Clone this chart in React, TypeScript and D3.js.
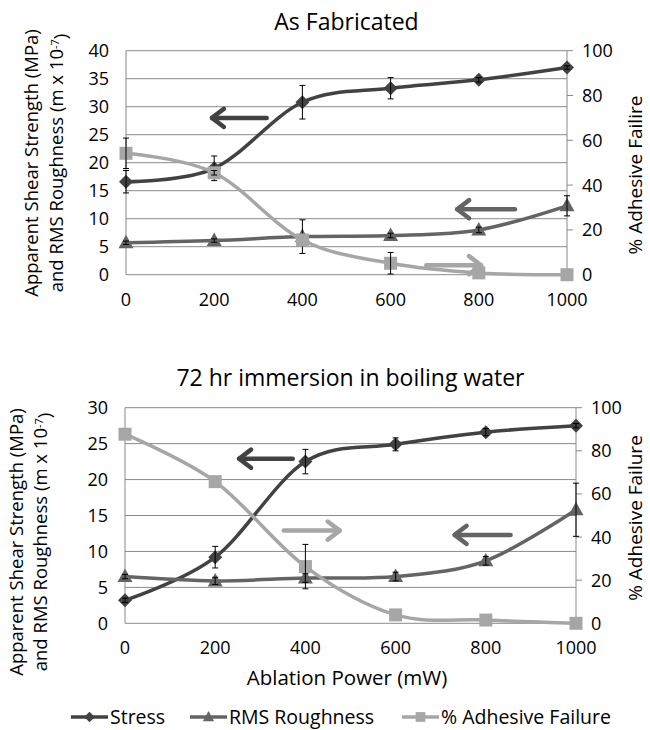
import React from 'react';
import * as d3 from 'd3';

// ablation power (mW)
const power = [0, 200, 400, 600, 800, 1000];
const powerTicks = [0, 200, 400, 600, 800, 1000];
const leftTicksFab = [0, 5, 10, 15, 20, 25, 30, 35, 40];
const leftTicksBoil = [0, 5, 10, 15, 20, 25, 30];
const rightTicks = [0, 20, 40, 60, 80, 100];

// As Fabricated
const stressFab = [16.6, 19.0, 30.8, 33.3, 34.8, 37.0];
const stressFabErr = [2.0, 2.2, 3.0, 1.9, 0.4, 0.3];
const roughFab = [5.7, 6.1, 6.8, 7.0, 8.0, 12.3];
const roughFabErr = [0.3, 0.3, 3.0, 0.4, 0.5, 1.8];
const failFab = [54.2, 45.5, 15.5, 5.1, 0.8, 0];
const failFabErr = [6.8, 1.0, 0, 4.8, 0, 0];

// 72 hr immersion in boiling water
const stressBoil = [3.2, 9.2, 22.5, 24.9, 26.6, 27.5];
const stressBoilErr = [0.3, 1.5, 1.7, 0.9, 0.5, 0.3];
const roughBoil = [6.5, 5.9, 6.3, 6.5, 8.7, 15.8];
const roughBoilErr = [0.3, 0.5, 0.6, 0.6, 0.6, 3.7];
const failBoil = [87.7, 65.7, 26.3, 3.9, 1.5, 0];
const failBoilErr = [0, 0, 10.3, 0, 0, 0];

const FONT = "'Open Sans', sans-serif";
const C_STRESS = '#424242';
const C_ROUGH = '#646464';
const C_FAIL = '#a6a6a6';
const C_GRID = '#8a8a8a';

type Marker = 'diamond' | 'triangle' | 'square';

const markerPath = (m: Marker, s = 1) => {
  if (m === 'diamond') return `M0,${-7 * s}L${7 * s},0L0,${7 * s}L${-7 * s},0Z`;
  if (m === 'triangle') return `M0,${-8 * s}L${7.5 * s},${5.5 * s}L${-7.5 * s},${5.5 * s}Z`;
  return `M${-6.5 * s},${-6.5 * s}H${6.5 * s}V${6.5 * s}H${-6.5 * s}Z`;
};

type SeriesDef = { values: number[]; err: number[]; right: boolean; color: string; marker: Marker };
type ArrowDef = { from: [number, number]; to: [number, number]; color: string };

const Arrow = ({ x1, y1, x2, y2, color }: { x1: number; y1: number; x2: number; y2: number; color: string }) => {
  const a = Math.atan2(y2 - y1, x2 - x1);
  const len = 15;
  const spread = 0.65;
  const p1 = [x2 - len * Math.cos(a - spread), y2 - len * Math.sin(a - spread)];
  const p2 = [x2 - len * Math.cos(a + spread), y2 - len * Math.sin(a + spread)];
  return (
    <g stroke={color} strokeWidth={4.5} fill="none" strokeLinecap="round" strokeLinejoin="round">
      <line x1={x1} y1={y1} x2={x2} y2={y2} />
      <path d={`M${p1[0]},${p1[1]}L${x2},${y2}L${p2[0]},${p2[1]}`} />
    </g>
  );
};

type PanelProps = {
  left: number; right: number; top: number; bottom: number;
  yMax: number; leftTicks: number[];
  title: string; titleY: number;
  rightTitle: string; rightTitleY: number;
  leftTitleX: [number, number]; leftTitleY: number;
  series: SeriesDef[]; arrows: ArrowDef[];
};

const Panel = (p: PanelProps) => {
  const x = d3.scaleLinear().domain([0, 1000]).range([p.left, p.right]);
  const yL = d3.scaleLinear().domain([0, p.yMax]).range([p.bottom, p.top]);
  const yR = d3.scaleLinear().domain([0, 100]).range([p.bottom, p.top]);
  const line = (ys: d3.ScaleLinear<number, number>) =>
    d3.line<number>().x((_, i) => x(power[i])).y(d => ys(d)).curve(d3.curveCatmullRom.alpha(0));
  const cx = (p.left + p.right) / 2;
  return (
    <g fontFamily={FONT} fill="#000">
      <text x={cx} y={p.titleY} textAnchor="middle" fontSize={23}>{p.title}</text>
      {p.leftTicks.map(t => (
        <g key={t}>
          <line x1={p.left} x2={p.right} y1={yL(t)} y2={yL(t)} stroke={C_GRID} strokeWidth={1} />
          <text x={p.left - 17} y={yL(t)} dy="0.36em" textAnchor="end" fontSize={18}>{t}</text>
        </g>
      ))}
      <line x1={p.left} x2={p.left} y1={p.top} y2={p.bottom} stroke={C_GRID} />
      <line x1={p.right} x2={p.right} y1={p.top} y2={p.bottom} stroke={C_GRID} />
      {rightTicks.map(t => (
        <g key={t}>
          <line x1={p.right} x2={p.right + 6} y1={yR(t)} y2={yR(t)} stroke={C_GRID} />
          <text x={p.right + 15} y={yR(t)} dy="0.36em" fontSize={18}>{t}</text>
        </g>
      ))}
      {powerTicks.map(t => (
        <text key={t} x={x(t)} y={p.bottom + 31} textAnchor="middle" fontSize={18}>{t}</text>
      ))}
      <text transform={`translate(${p.leftTitleX[0]},${p.leftTitleY}) rotate(-90)`} textAnchor="middle" dy="0.35em" fontSize={18.5}>
        Apparent Shear Strength (MPa)
      </text>
      <text transform={`translate(${p.leftTitleX[1]},${p.leftTitleY}) rotate(-90)`} textAnchor="middle" dy="0.35em" fontSize={18.5}>
        and RMS Roughness (m x 10<tspan dy="-0.45em" fontSize={11}>-7</tspan><tspan dy="0.45em">)</tspan>
      </text>
      <text transform={`translate(635,${p.rightTitleY}) rotate(-90)`} textAnchor="middle" dy="0.35em" fontSize={19}>
        {p.rightTitle}
      </text>
      {p.series.map((s, k) => {
        const ys = s.right ? yR : yL;
        return (
          <g key={k}>
            <path d={line(ys)(s.values) || ''} fill="none" stroke={s.color} strokeWidth={3.5} />
            {s.values.map((v, i) => (
              <path key={i} d={markerPath(s.marker)} transform={`translate(${x(power[i])},${ys(v)})`} fill={s.color} />
            ))}
            {s.values.map((v, i) => s.err[i] > 0 ? (
              <g key={'e' + i} stroke="#000" strokeWidth={1}>
                <line x1={x(power[i])} x2={x(power[i])} y1={ys(v - s.err[i])} y2={ys(v + s.err[i])} />
                <line x1={x(power[i]) - 3} x2={x(power[i]) + 3} y1={ys(v - s.err[i])} y2={ys(v - s.err[i])} />
                <line x1={x(power[i]) - 3} x2={x(power[i]) + 3} y1={ys(v + s.err[i])} y2={ys(v + s.err[i])} />
              </g>
            ) : null)}
          </g>
        );
      })}
      {p.arrows.map((a, i) => (
        <Arrow key={i} x1={x(a.from[0])} y1={yL(a.from[1])} x2={x(a.to[0])} y2={yL(a.to[1])} color={a.color} />
      ))}
    </g>
  );
};

const legendItems = [
  { label: 'Stress', color: C_STRESS, marker: 'diamond' as Marker },
  { label: 'RMS Roughness', color: C_ROUGH, marker: 'triangle' as Marker },
  { label: '% Adhesive Failure', color: C_FAIL, marker: 'square' as Marker },
];

export default function App() {
  const legendX = [71, 190, 402];
  return (
    <svg width={650} height={730} style={{ position: 'absolute', left: 0, top: 0, background: '#fff' }}>
      <Panel
        left={126} right={567} top={50.7} bottom={274.7} yMax={40} leftTicks={leftTicksFab}
        title="As Fabricated" titleY={30}
        rightTitle="% Adhesive Failire" rightTitleY={175}
        leftTitleX={[32, 57]} leftTitleY={163}
        series={[
          { values: stressFab, err: stressFabErr, right: false, color: C_STRESS, marker: 'diamond' },
          { values: roughFab, err: roughFabErr, right: false, color: C_ROUGH, marker: 'triangle' },
          { values: failFab, err: failFabErr, right: true, color: C_FAIL, marker: 'square' },
        ]}
        arrows={[
          { from: [319, 28], to: [195, 28], color: C_STRESS },
          { from: [882, 11.7], to: [751, 11.7], color: C_ROUGH },
          { from: [681, 1.7], to: [805, 1.7], color: C_FAIL },
        ]}
      />
      <Panel
        left={125} right={576} top={407.7} bottom={623.3} yMax={30} leftTicks={leftTicksBoil}
        title="72 hr immersion in boiling water" titleY={386}
        rightTitle="% Adhesive Failure" rightTitleY={518}
        leftTitleX={[17, 41]} leftTitleY={542}
        series={[
          { values: stressBoil, err: stressBoilErr, right: false, color: C_STRESS, marker: 'diamond' },
          { values: roughBoil, err: roughBoilErr, right: false, color: C_ROUGH, marker: 'triangle' },
          { values: failBoil, err: failBoilErr, right: true, color: C_FAIL, marker: 'square' },
        ]}
        arrows={[
          { from: [372, 22.9], to: [253, 22.9], color: C_STRESS },
          { from: [352, 12.9], to: [476, 12.9], color: C_FAIL },
          { from: [855, 12.3], to: [731, 12.3], color: C_ROUGH },
        ]}
      />
      <text x={347} y={685} textAnchor="middle" fontFamily={FONT} fontSize={20.5} fill="#000">Ablation Power (mW)</text>
      <g fontFamily={FONT} fill="#000">
        {legendItems.map((it, i) => (
          <g key={it.label} transform={`translate(${legendX[i]},717)`}>
            <line x1={0} x2={37} y1={0} y2={0} stroke={it.color} strokeWidth={3.5} />
            <path d={markerPath(it.marker, 0.75)} transform="translate(18.5,0)" fill={it.color} />
            <text x={39} y={0} dy="0.36em" fontSize={19.5}>{it.label}</text>
          </g>
        ))}
      </g>
    </svg>
  );
}
